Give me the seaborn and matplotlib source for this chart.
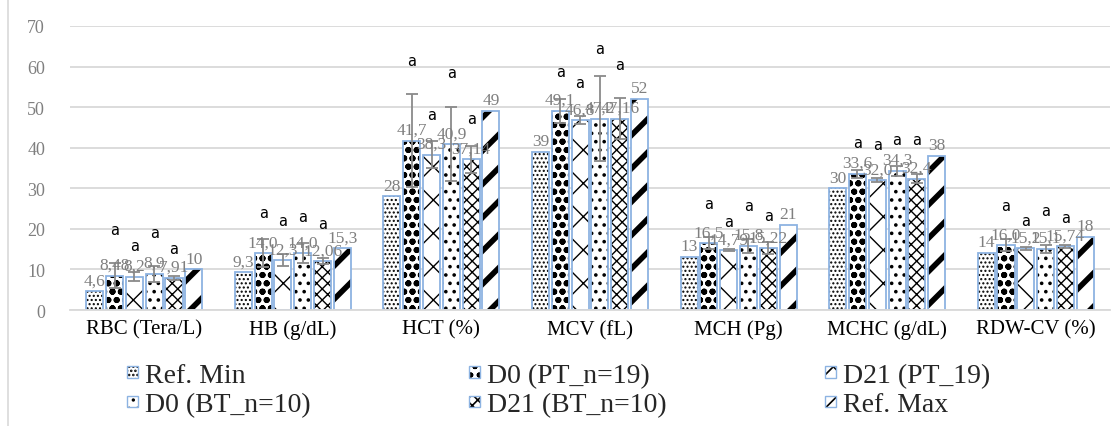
import matplotlib

matplotlib.use("Agg")
import matplotlib.pyplot as plt
import pandas as pd
import seaborn as sns
from matplotlib.lines import Line2D
from matplotlib.patches import Patch

# Data
params = ["RBC (Tera/L)", "HB (g/dL)", "HCT (%)", "MCV (fL)", "MCH (Pg)", "MCHC (g/dL)", "RDW-CV (%)"]
groups = ["Ref. Min", "D0 (PT_n=19)", "D21 (PT_19)", "D0 (BT_n=10)", "D21 (BT_n=10)", "Ref. Max"]

ref_min = [4.6, 9.3, 28, 39, 13, 30, 14]
d0_pt = [8.48, 14.0, 41.7, 49.1, 16.5, 33.6, 16.0]
d21_pt = [8.2, 12.3, 38.3, 46.8, 14.79, 32.0, 15.2]
d0_bt = [8.9, 14.0, 40.9, 47.2, 15.8, 34.3, 15.1]
d21_bt = [7.91, 12.06, 37.14, 47.16, 15.22, 32.4, 15.74]
ref_max = [10, 15.3, 49, 52, 21, 38, 18]

d0_pt_err = [3.0, 3.5, 11.5, 3.0, 1.5, 1.0, 1.5]
d21_pt_err = [1.1, 1.5, 3.3, 1.0, 0.3, 0.5, 0.3]
d0_bt_err = [1.9, 2.5, 9.2, 10.5, 1.7, 1.2, 1.0]
d21_bt_err = [0.5, 0.8, 3.3, 5.0, 1.5, 1.2, 0.4]

series = [ref_min, d0_pt, d21_pt, d0_bt, d21_bt, ref_max]
errors = [None, d0_pt_err, d21_pt_err, d0_bt_err, d21_bt_err, None]
hatches = ["....", "oo", "x", "..", "xxx", "/"]
hatch_widths = [1.0, 2.0, 1.0, 1.4, 1.0, 4.0]

rows = []
for g, vals in zip(groups, series):
    for p, v in zip(params, vals):
        rows.append({"param": p, "group": g, "value": v})
df = pd.DataFrame(rows)

sns.set_theme(style="white")
plt.rcParams["font.family"] = ["Liberation Serif", "DejaVu Serif"]
plt.rcParams["hatch.linewidth"] = 1.2

edge_blue = "#8db3e2"
grey_txt = "#7f7f7f"


def with_hatch_lw(artist, lw):
    # set the hatch width on the patch if possible, and also during its draw
    if hasattr(artist, "set_hatch_linewidth"):
        artist.set_hatch_linewidth(lw)
    orig = artist.draw

    def draw(renderer):
        with plt.rc_context({"hatch.linewidth": lw}):
            orig(renderer)

    artist.draw = draw


fig = plt.figure(figsize=(11.14, 4.27), dpi=100)
ax = fig.add_axes([70 / 1114, 1 - 311 / 427, 1040 / 1114, 284 / 427])

# pass 1: hatched fill (black hatch)
n0 = len(ax.containers)
sns.barplot(data=df, x="param", y="value", hue="group", order=params, hue_order=groups,
            palette=["white"] * 6, width=0.8, gap=0.14, errorbar=None,
            edgecolor="black", linewidth=0, legend=False, ax=ax)
fill_conts = ax.containers[n0:]
for cont, h, hw in zip(fill_conts, hatches, hatch_widths):
    for bar in cont:
        bar.set_hatch(h)
        with_hatch_lw(bar, hw)

# pass 2: blue outline
sns.barplot(data=df, x="param", y="value", hue="group", order=params, hue_order=groups,
            palette=[edge_blue] * 6, width=0.8, gap=0.14, errorbar=None,
            fill=False, linewidth=1.3, legend=False, ax=ax)

for i, (cont, vals, errs) in enumerate(zip(fill_conts, series, errors)):
    xs = [b.get_x() + b.get_width() / 2 for b in cont]
    for x, v in zip(xs, vals):
        ax.annotate(str(v).replace(".", ","), (x, v), xytext=(0, 2), textcoords="offset points",
                    ha="center", va="bottom", color=grey_txt, fontsize=12.5)
    if errs is None:
        continue
    ax.errorbar(xs, vals, yerr=errs, fmt="none", ecolor="#8a8a8a", elinewidth=1.3,
                capsize=4, capthick=1.3)
    for j, (x, v, e) in enumerate(zip(xs, vals, errs)):
        ax.annotate("a", (x, v + e), xytext=(0, 14 + 5 * ((i + j) % 2)), textcoords="offset points",
                    ha="center", va="bottom", color="black", fontsize=10.5, family="DejaVu Sans")

ax.set_ylim(0, 70)
ax.set_xlim(-0.5, 6.5)
ax.set_yticks(range(0, 71, 10))
ax.set_xlabel("")
ax.set_ylabel("")
ax.grid(axis="y", color="#d9d9d9", linewidth=1.3)
ax.set_axisbelow(True)
for s in ["top", "right", "left"]:
    ax.spines[s].set_visible(False)
ax.spines["bottom"].set_color("#d9d9d9")
ax.spines["bottom"].set_linewidth(1.3)
ax.tick_params(axis="y", colors=grey_txt, labelsize=13, length=0, pad=18)
ax.tick_params(axis="x", colors="black", labelsize=15, length=0, pad=7)

# left border line of the original figure
fig.add_artist(Line2D([8 / 1114, 8 / 1114], [0, 1], color="#d9d9d9", linewidth=1.2))

# legend: column-wise order so rows read left to right
order = [0, 3, 1, 4, 2, 5]
handles = [(Patch(facecolor="white", edgecolor="black", linewidth=0, hatch=hatches[k]),
            Patch(facecolor="none", edgecolor=edge_blue, linewidth=1.0)) for k in order]
labels = [groups[k] for k in order]
fig.legend(handles, labels, ncol=3, loc="upper left", bbox_to_anchor=(127 / 1114, 1 - 364 / 427),
           frameon=False, fontsize=20, handlelength=0.4, handleheight=0.25, handletextpad=0.25,
           columnspacing=5.7, labelspacing=0.15, borderpad=0, borderaxespad=0)

plt.savefig("out.png", dpi=100)
plt.close()
